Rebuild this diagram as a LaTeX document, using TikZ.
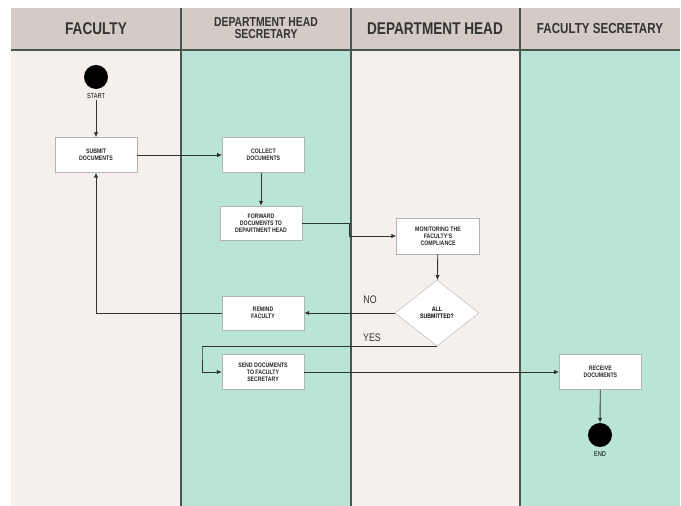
\documentclass[tikz,border=0pt]{standalone}
\usepackage{fontspec}
\setmainfont{Liberation Sans}[FakeStretch=0.8]
\usepackage{xcolor}
\usepackage{tikz}
\usetikzlibrary{arrows.meta,positioning,shapes.geometric}
\definecolor{lanepink}{RGB}{245,240,237}
\definecolor{laneteal}{RGB}{186,228,216}
\definecolor{headgrey}{RGB}{212,203,198}
\definecolor{lanerule}{RGB}{72,86,80}

\begin{document}
\begin{tikzpicture}[x=1pt,y=1pt,
		lanehead/.style={font=\bfseries\fontsize{17}{17}\selectfont, text=black!80, align=center},
		actbox/.style={draw=black!30, fill=white, minimum width=82pt, minimum height=35pt, align=center, inner sep=1pt, font=\bfseries\fontsize{6.5}{7}\selectfont, text=black!85},
		endpoint/.style={circle, fill=black, minimum size=24pt, inner sep=0pt},
		flow/.style={-{Latex[length=5pt,width=4.5pt]}, line width=0.9pt, draw=black!80},
		guard/.style={font=\fontsize{11}{11}\selectfont, text=black!80}]
				\useasboundingbox (0,0) rectangle (681,506);
				% swimlanes
				\fill[lanepink] (11,0) rectangle (181,456);
				\fill[laneteal] (181,0) rectangle (351,456);
				\fill[lanepink] (351,0) rectangle (520,456);
				\fill[laneteal] (520,0) rectangle (680,456);
				\fill[headgrey] (11,456) rectangle (680,498);
				\draw[lanerule, line width=1.5pt] (11,456) -- (680,456);
				\foreach \x in {181,351,520}
					\draw[lanerule, line width=1.5pt] (\x,0) -- (\x,498);
				
				\node[lanehead] (hfac) at (96,477) {FACULTY};
				\node[lanehead, font=\bfseries\fontsize{13}{12.5}\selectfont, inner sep=0pt] (hdhs) at (266,478) {DEPARTMENT HEAD\\SECRETARY};
				\node[lanehead] (hdh) at (435,477) {DEPARTMENT HEAD};
				\node[lanehead, font=\bfseries\fontsize{14.5}{14.5}\selectfont] (hfs) at (600,477) {FACULTY SECRETARY};
				
				% activities
				\node[endpoint] (start) at (96,429) {};
				\node[below=3pt of start, font=\fontsize{7}{7}\selectfont, inner sep=1pt] (startlbl) {START};
				\node[actbox] (submit) at (96,351) {SUBMIT\\DOCUMENTS};
				\node[actbox, right=85pt of submit] (collect) {COLLECT\\DOCUMENTS};
				\node[actbox, minimum height=34pt] (forward) at (261,283) {FORWARD\\DOCUMENTS TO\\DEPARTMENT HEAD};
				\node[actbox, minimum width=83pt, minimum height=36pt] (monitor) at (438,270) {MONITORING THE\\FACULTY'S\\COMPLIANCE};
				\node[diamond, draw=black!30, fill=white, minimum width=84pt, minimum height=66pt, inner sep=0pt, align=center, font=\bfseries\fontsize{6.5}{7}\selectfont] (check) at (437,193) {ALL\\SUBMITTED?};
				\node[actbox, minimum height=34pt] (remind) at (263,193) {REMIND\\FACULTY};
				\node[actbox] (send) at (263,134) {SEND DOCUMENTS\\TO FACULTY\\SECRETARY};
				\node[actbox, right=255pt of send] (receive) {RECEIVE\\DOCUMENTS};
				\node[endpoint] (finish) at (600,71) {};
				\node[below=3pt of finish, font=\fontsize{7}{7}\selectfont, inner sep=1pt] (endlbl) {END};
				
				\coordinate (fwdbend) at (349,283);
				\coordinate (yesbend) at (202,159);
				
				\draw[flow] (startlbl) -- (submit);
				\draw[flow] (submit) -- (collect);
				\draw[flow] (collect.south -| forward) -- (forward);
				\draw[flow] (forward) -- (fwdbend) |- (monitor);
				\draw[flow] (monitor) -- (check);
				\draw[flow] (check) -- (remind);
				\node[guard] (nolbl) at (370,206) {NO};
				\draw[flow] (remind) -| (submit);
				\draw[flow] (check.south) -- (check.south -| yesbend) -- (yesbend) |- (send);
				\node[guard] (yeslbl) at (372,168) {YES};
				\draw[flow] (send) -- (receive);
				\draw[flow] (receive) -- (finish);
			\end{tikzpicture}
\end{document}
